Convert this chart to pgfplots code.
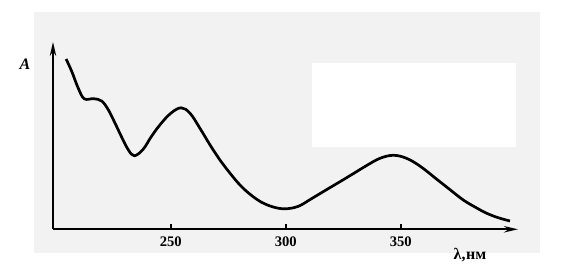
\documentclass[border=0pt]{standalone}
\usepackage{fontspec}
\setmainfont{Liberation Serif}
\usepackage{pgfplots}
\pgfplotsset{compat=1.18}
\usetikzlibrary{arrows.meta}
\begin{document}
\begin{tikzpicture}[x=0.5pt,y=0.5pt]
\path[fill=white] (0,0) rectangle (564,276);
\fill[black!5] (34,23) rectangle (540,264);
\fill[white] (312,129) rectangle (516,213);
\begin{axis}[at={(26.5pt,23.35pt)}, anchor=south west, scale only axis,
  width=232.5pt, height=93.65pt,
  xmin=198.8, xmax=401, ymin=0, ymax=187.3,
  axis lines=left,
  axis line style={line width=1pt, -{Stealth[length=7pt,width=3.2pt]}},
  xtick={250,300,350}, ytick=\empty,
  tick align=inside, major tick length=2.5pt,
  tick style={line width=0.8pt, black},
  xticklabel style={font=\fontsize{7.3}{8}\selectfont\bfseries, yshift=0pt},
  /pgf/number format/assume math mode=true,
  clip=false]
\addplot[smooth, tension=0.6, line width=1.35pt] coordinates {
(204.5,170.3) (207.0,157.6) (209.8,141) (212.4,130.5) (216.5,130.6)
(220.0,128.2) (222.9,119.3) (225.8,106) (228.7,92) (231.6,79.3) (234.2,73.5)
(238.0,80) (241.5,92.5) (245.5,105) (250.0,116) (254.5,121.5)
(258.4,116) (262.7,101) (267.1,84.3) (271.4,69.3) (275.8,56) (280.1,44.3)
(284.5,35) (289.5,27) (295.0,22) (300.0,20.5) (305.5,23) (311.0,30.3)
(317.0,38.6) (323.6,47.6) (329.5,55.8) (335.2,63.8) (341.0,71) (346.8,74)
(352.5,71) (358.5,63) (365.7,50) (371.5,39.5) (377.2,29.3) (382.5,22) (387.4,16) (392.5,11.5) (397.5,8.3)
};
\end{axis}
\node[font=\fontsize{8}{9}\selectfont\bfseries\itshape] at (25,212) {A};
\node[font=\fontsize{8}{9}\selectfont\bfseries] at (470,21) {λ,\kern0.3pt нм};
\end{tikzpicture}
\end{document}
